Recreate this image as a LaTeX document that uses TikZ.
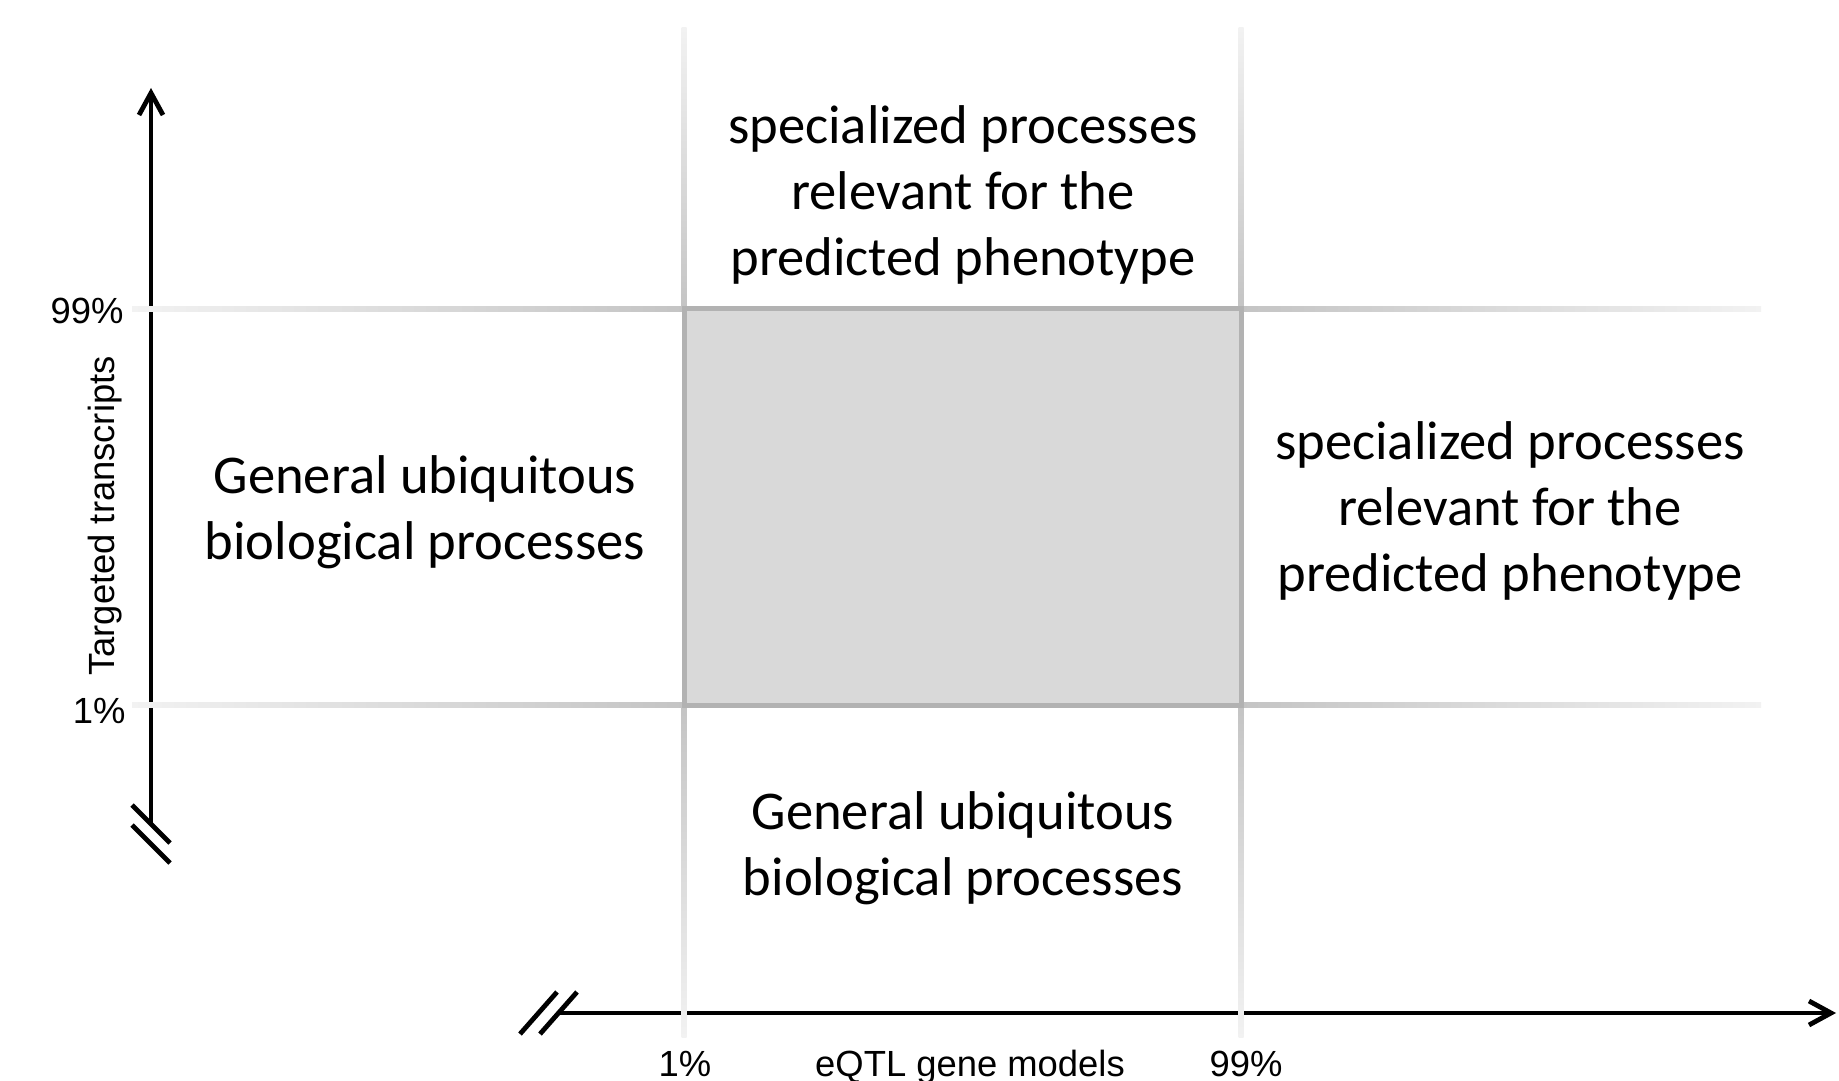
\documentclass[tikz,border=0pt]{standalone}
\usepackage{fontspec}
\setmainfont{Carlito}
\newfontfamily\arialfont{Liberation Sans}
\usetikzlibrary{arrows.meta}
\definecolor{glight}{HTML}{F2F2F2}
\definecolor{gdark}{HTML}{C4C4C4}
\definecolor{gborder}{HTML}{B2B2B2}
\definecolor{gbox}{HTML}{D9D9D9}
\begin{document}
\begin{tikzpicture}[x=0.5pt,y=-0.5pt,
  maintext/.style={align=center, font=\fontsize{27.3}{32.8}\selectfont, inner sep=0pt},
  smalltext/.style={font=\arialfont\fontsize{18.2}{21}\selectfont, inner sep=0pt},
  axisline/.style={line width=2.4pt, black},
  breakmark/.style={line width=2.4pt, black},
  axisarrow/.style={-{Straight Barb[length=11pt,width=12pt,line width=2.4pt]}}]
\useasboundingbox (0,0) rectangle (1839,1080);

% shaded centre box
\fill[gbox] (684,309) rectangle (1241,705);

% axes
\coordinate (ybot) at (151,824);
\coordinate (ytop) at (151,88);
\coordinate (xleft) at (560,1013);
\coordinate (xright) at (1836,1013);
\draw[axisline, axisarrow] (ybot) -- (ytop);
\draw[axisline, axisarrow] (xleft) -- (xright);
% break marks
\draw[breakmark] (132,805) -- (170,843);
\draw[breakmark] (132,825) -- (170,863);
\draw[breakmark] (520,1034) -- (557,992);
\draw[breakmark] (540,1034) -- (577,992);

% horizontal grid lines (gradients)
\shade[left color=glight, right color=gdark] (132,306.5) rectangle (684,311.5);
\shade[left color=gdark, right color=glight] (1241,306.5) rectangle (1761,311.5);
\shade[left color=glight, right color=gdark] (132,702.5) rectangle (684,707.5);
\shade[left color=gdark, right color=glight] (1241,702.5) rectangle (1761,707.5);
% vertical grid lines (gradients)
\shade[top color=glight, bottom color=gdark] (681.5,28) rectangle (686.5,309);
\shade[top color=gdark, bottom color=glight] (681.5,705) rectangle (686.5,1037);
\shade[top color=glight, bottom color=gdark] (1238.5,28) rectangle (1243.5,309);
\shade[top color=gdark, bottom color=glight] (1238.5,705) rectangle (1243.5,1037);
% box border
\draw[gborder, line width=2.5pt] (684,309) rectangle (1241,705);

% quadrant texts
\node[maintext] (top) at (963,195) {specialized processes\\relevant for the\\predicted phenotype};
\node[maintext] (left) at (425,512) {General ubiquitous\\biological processes};
\node[maintext] (right) at (1510,511) {specialized processes\\relevant for the\\predicted phenotype};
\node[maintext] (bottom) at (963,848) {General ubiquitous\\biological processes};

% axis labels
\node[smalltext, anchor=east] (l99) at (124,311) {99\%};
\node[smalltext, anchor=east] (l1) at (126,711) {1\%};
\node[smalltext, rotate=90] (ylab) at (105,516) {Targeted transcripts};
\node[smalltext, anchor=base] (x1) at (685,1076) {1\%};
\node[smalltext, anchor=base] (xlab) at (970,1076) {eQTL gene models};
\node[smalltext, anchor=base] (x99) at (1246,1076) {99\%};
\end{tikzpicture}
\end{document}
